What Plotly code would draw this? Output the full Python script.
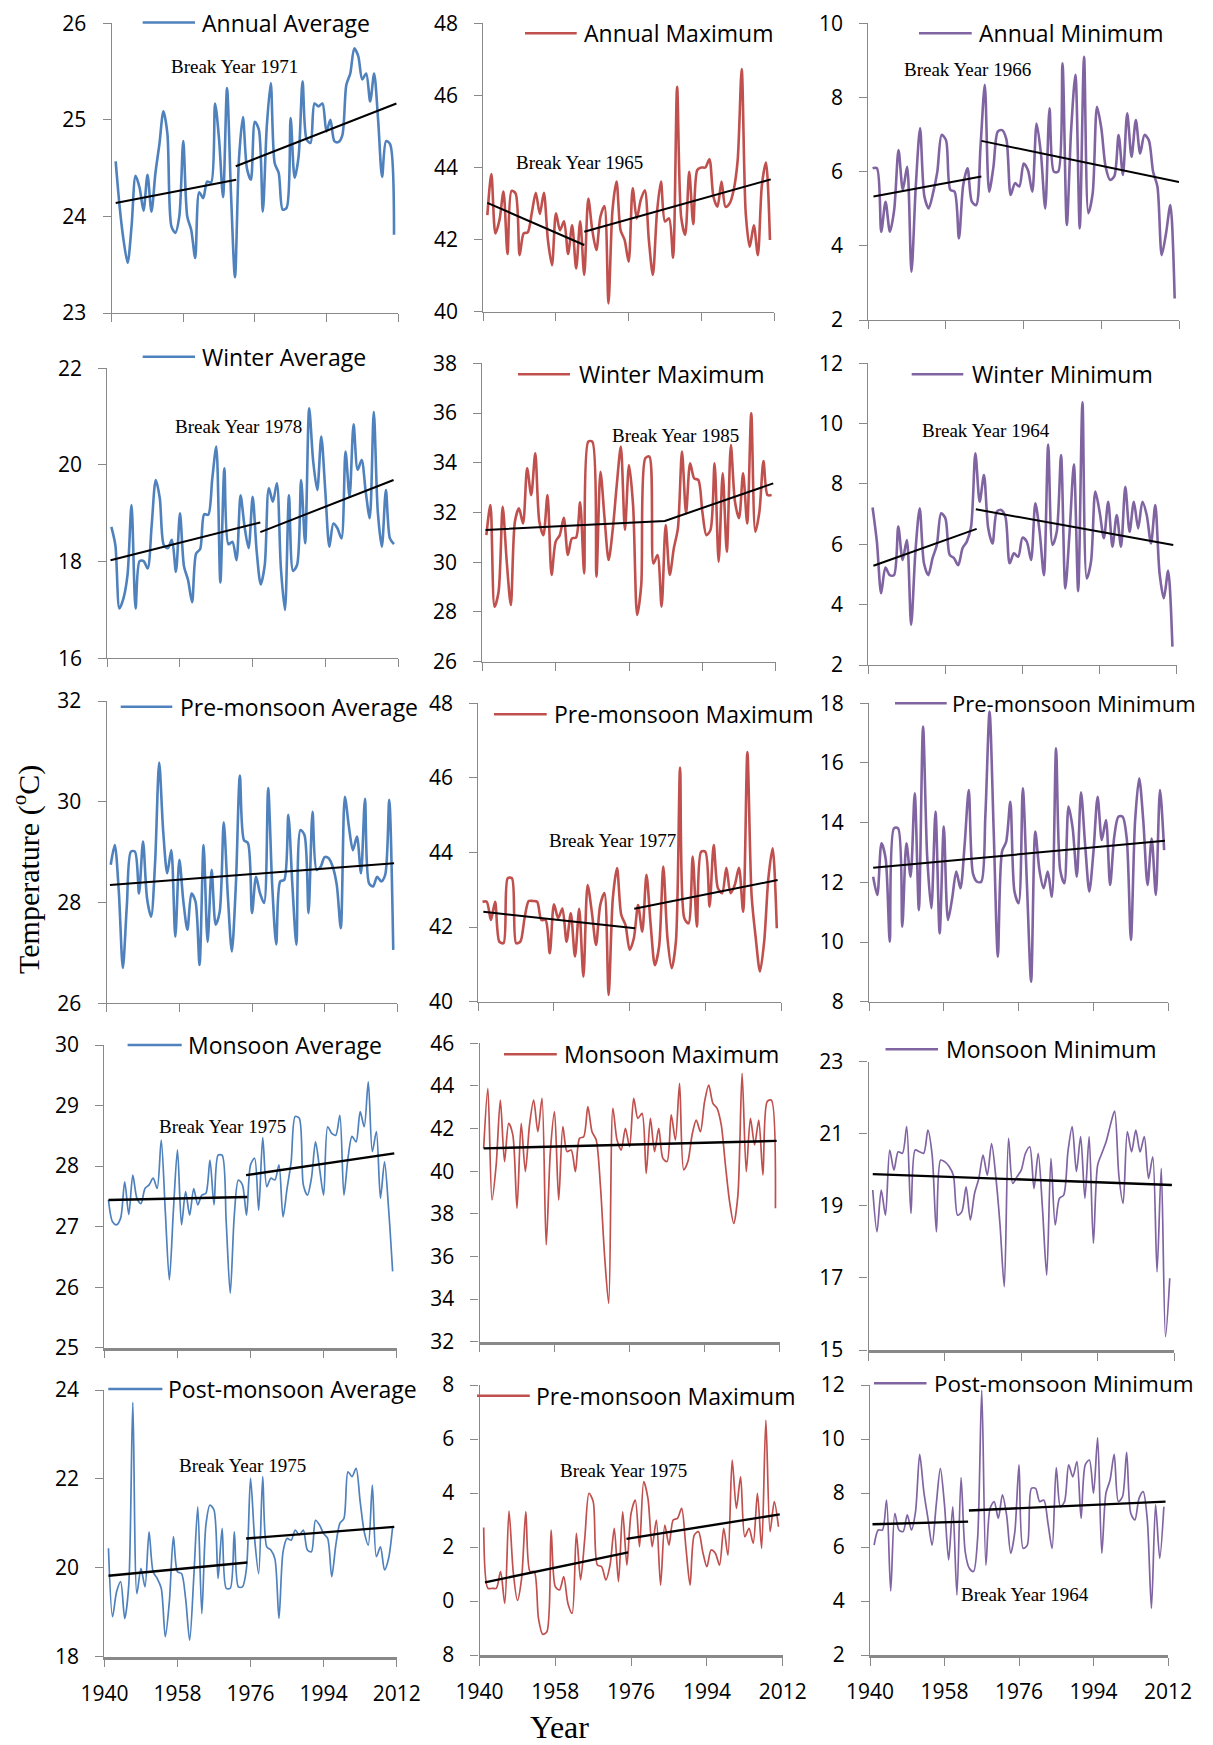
import plotly.graph_objects as go

# ---------------- data ----------------
years = list(range(1941, 2012))
x_ticks = [1940, 1958, 1976, 1994, 2012]

annual_average = [24.57, 24.10, 23.75, 23.52, 23.90, 24.42, 24.30, 24.06, 24.43, 24.05,
                  24.45, 24.75, 25.09, 24.86, 23.90, 23.83, 24.00, 24.78, 24.00, 23.86,
                  23.57, 24.25, 24.19, 24.36, 24.35, 25.17, 24.80, 24.20, 25.33, 24.24,
                  23.37, 24.59, 25.03, 24.50, 24.38, 24.98, 24.90, 24.05, 24.93, 25.38,
                  24.55, 24.45, 24.07, 24.09, 25.02, 24.40, 24.62, 25.40, 24.80, 24.76,
                  25.17, 25.14, 25.17, 24.88, 25.00, 24.78, 24.77, 24.84, 25.36, 25.48,
                  25.74, 25.66, 25.42, 25.48, 25.19, 25.48, 25.00, 24.41, 24.78, 24.75,
                  23.81]
annual_maximum = [42.68, 43.82, 42.17, 42.54, 43.33, 41.60, 43.35, 43.28, 41.57, 42.17,
                  42.20, 42.73, 43.30, 42.71, 43.30, 41.99, 41.29, 42.73, 42.26, 42.51,
                  41.60, 42.40, 41.20, 42.51, 41.02, 43.14, 42.26, 41.71, 42.63, 42.93,
                  40.23, 42.82, 43.61, 42.26, 41.99, 41.39, 43.42, 42.59, 43.10, 43.37,
                  41.99, 41.02, 42.73, 43.61, 42.50, 42.59, 41.50, 46.24, 42.63, 42.13,
                  43.88, 42.43, 43.93, 44.00, 44.00, 44.23, 43.19, 42.91, 43.61, 42.91,
                  43.00, 43.37, 44.20, 46.73, 42.73, 41.80, 42.40, 41.57, 43.51, 44.14,
                  41.99]
annual_minimum = [6.09, 6.09, 4.38, 5.19, 4.38, 4.97, 6.58, 5.51, 6.13, 3.30,
                  5.60, 7.17, 5.33, 5.01, 5.42, 6.00, 6.99, 6.85, 5.51, 5.46,
                  4.20, 5.64, 6.09, 5.19, 5.10, 6.67, 8.34, 5.46, 6.13, 7.08,
                  7.12, 6.87, 5.37, 5.69, 5.60, 6.22, 6.04, 5.46, 7.30, 6.49,
                  5.01, 7.71, 6.00, 6.00, 8.92, 4.56, 7.12, 8.61, 4.47, 9.10,
                  4.88, 5.42, 7.75, 7.17, 6.13, 5.78, 5.87, 6.99, 5.91, 7.57,
                  6.40, 7.39, 6.49, 6.99, 6.85, 6.00, 5.60, 3.75, 4.34, 5.10,
                  2.58]
winter_average = [18.72, 18.34, 17.03, 17.24, 17.72, 19.17, 17.03, 18.01, 18.01, 17.86,
                  18.76, 19.69, 19.31, 18.34, 18.28, 18.45, 17.79, 19.00, 17.90, 17.62,
                  17.16, 18.17, 18.26, 18.98, 18.97, 19.72, 20.38, 17.57, 19.93, 18.36,
                  18.41, 18.03, 19.37, 18.72, 18.28, 19.34, 18.21, 17.53, 17.93, 19.52,
                  19.24, 19.62, 17.86, 17.00, 19.37, 17.81, 17.93, 19.69, 18.38, 21.17,
                  20.07, 19.48, 20.59, 19.45, 18.31, 18.79, 18.69, 18.48, 20.28, 19.34,
                  20.84, 19.90, 20.10, 19.45, 18.90, 21.10, 19.03, 18.31, 19.48, 18.48,
                  18.36]
winter_maximum = [31.09, 32.30, 28.21, 28.82, 32.23, 30.02, 28.28, 31.63, 32.17, 31.56,
                  33.78, 32.70, 34.38, 31.63, 31.09, 32.70, 29.49, 30.83, 31.09, 31.79,
                  30.29, 30.96, 30.99, 32.41, 29.55, 34.85, 34.85, 29.42, 33.64, 31.77,
                  30.09, 31.30, 33.11, 34.65, 31.30, 33.91, 32.30, 27.88, 29.08, 34.18,
                  34.25, 29.95, 30.29, 28.21, 31.50, 29.49, 30.56, 31.36, 34.45, 31.97,
                  33.98, 33.37, 33.31, 32.03, 31.09, 31.30, 33.98, 30.02, 33.58, 30.42,
                  34.71, 32.44, 31.77, 33.58, 31.56, 35.99, 31.23, 32.03, 34.07, 32.70,
                  32.70]
winter_minimum = [7.22, 6.09, 4.38, 5.23, 4.98, 4.98, 6.59, 5.48, 6.14, 3.33,
                  5.76, 7.19, 5.37, 4.98, 5.54, 5.98, 7.03, 6.86, 5.65, 5.54,
                  5.31, 5.87, 6.09, 6.59, 9.02, 7.41, 8.30, 6.53, 6.03, 7.08,
                  7.14, 6.92, 5.37, 5.70, 5.59, 6.22, 6.09, 5.48, 7.36, 6.42,
                  4.98, 9.31, 5.98, 6.42, 8.96, 4.54, 6.42, 8.65, 4.45, 10.71,
                  4.87, 5.43, 7.75, 7.08, 6.20, 7.41, 5.92, 6.97, 5.92, 7.91,
                  6.42, 7.41, 6.53, 7.41, 6.97, 6.03, 7.30, 5.04, 4.21, 5.12,
                  2.61]
premonsoon_average = [28.75, 29.14, 28.22, 26.70, 27.95, 29.01, 29.01, 28.18, 29.21, 28.08,
                      27.72, 28.81, 30.78, 29.41, 28.58, 29.04, 27.32, 28.85, 28.02, 27.46,
                      28.18, 28.02, 26.76, 29.14, 27.22, 28.65, 27.56, 27.82, 29.59, 28.15,
                      27.03, 28.35, 30.52, 29.24, 29.18, 27.79, 28.51, 28.18, 27.99, 30.27,
                      28.35, 27.17, 28.42, 28.45, 29.74, 28.35, 27.16, 29.44, 29.34, 27.79,
                      29.80, 28.65, 28.71, 28.90, 28.88, 28.71, 28.35, 27.49, 30.10, 29.51,
                      29.04, 29.31, 28.58, 30.06, 28.38, 28.32, 28.51, 28.42, 28.55, 30.04,
                      27.06]
premonsoon_maximum = [42.68, 42.68, 42.19, 42.68, 41.61, 41.57, 43.31, 43.31, 41.57, 41.61,
                      42.24, 42.70, 42.70, 42.68, 42.19, 42.19, 41.30, 42.61, 42.24, 42.50,
                      41.61, 42.37, 41.21, 42.49, 40.67, 43.13, 42.41, 41.52, 42.59, 42.91,
                      40.18, 42.77, 43.58, 42.33, 42.06, 41.39, 41.70, 42.59, 41.88, 43.40,
                      42.06, 40.98, 41.48, 43.62, 41.70, 40.90, 41.61, 46.28, 42.24, 42.10,
                      43.89, 42.01, 44.02, 44.02, 42.55, 44.20, 43.04, 42.91, 43.59, 42.91,
                      43.13, 43.59, 42.41, 46.69, 42.86, 41.70, 40.81, 41.61, 43.31, 44.11,
                      41.97]
premonsoon_minimum = [12.19, 11.58, 13.31, 12.80, 10.01, 13.81, 13.81, 10.51, 13.31, 12.19,
                      14.98, 11.07, 17.22, 12.86, 11.13, 14.37, 10.29, 13.87, 10.74, 11.46,
                      12.36, 11.80, 13.25, 15.09, 12.30, 12.02, 12.02, 14.26, 17.72, 13.70,
                      9.51, 13.03, 13.36, 14.70, 11.69, 11.30, 15.15, 11.91, 8.67, 13.70,
                      12.41, 11.80, 12.36, 11.52, 16.49, 12.41, 11.97, 14.54, 13.81, 12.19,
                      15.02, 13.25, 11.69, 13.03, 14.87, 13.42, 14.09, 11.91, 13.53, 14.20,
                      14.20, 13.47, 10.07, 14.03, 15.49, 14.03, 11.91, 13.47, 11.58, 15.09,
                      13.08]
monsoon_average = [27.44, 27.08, 27.03, 27.14, 27.74, 27.20, 27.85, 27.47, 27.38, 27.63,
                   27.69, 27.80, 27.63, 28.43, 27.25, 26.12, 27.27, 28.27, 27.03, 27.58,
                   27.19, 27.63, 27.36, 27.52, 27.55, 28.10, 27.36, 28.18, 28.18, 27.08,
                   25.90, 27.19, 27.77, 27.69, 27.19, 28.02, 28.13, 27.27, 28.47, 27.66,
                   27.80, 27.77, 28.02, 27.16, 27.63, 28.07, 28.82, 28.79, 27.69, 27.52,
                   27.80, 28.40, 27.96, 27.52, 28.65, 28.54, 28.51, 28.84, 27.52, 28.13,
                   28.49, 28.40, 28.90, 28.65, 29.39, 28.24, 28.57, 27.47, 28.07, 27.30,
                   26.26]
monsoon_maximum = [41.07, 43.89, 38.65, 40.29, 43.34, 40.45, 42.25, 41.70, 38.26, 42.25,
                   39.98, 42.17, 43.34, 41.85, 43.42, 36.54, 40.92, 42.79, 38.65, 42.09,
                   40.92, 40.99, 39.98, 41.54, 41.62, 43.03, 41.85, 41.46, 39.35, 36.07,
                   33.80, 42.95, 41.46, 40.99, 42.01, 41.15, 43.42, 42.48, 42.71, 39.90,
                   42.48, 40.92, 42.01, 40.60, 40.45, 42.64, 41.46, 44.12, 40.06, 40.45,
                   41.70, 42.40, 41.85, 43.26, 44.04, 43.18, 42.95, 42.17, 40.29, 38.57,
                   37.55, 38.88, 44.59, 39.98, 42.48, 41.23, 42.40, 39.82, 43.26, 43.34,
                   38.26]
monsoon_minimum = [19.44, 18.28, 19.44, 18.74, 20.55, 19.99, 20.50, 20.46, 21.20, 18.79,
                   20.55, 20.50, 20.46, 21.10, 20.41, 18.28, 20.27, 20.22, 20.09, 19.85,
                   18.74, 18.84, 19.53, 18.61, 19.35, 19.76, 20.41, 19.85, 20.73, 19.81,
                   18.47, 16.76, 20.87, 19.62, 19.81, 19.99, 20.46, 20.64, 19.48, 20.46,
                   18.93, 17.08, 20.32, 18.47, 19.21, 19.30, 20.50, 21.20, 19.95, 20.92,
                   19.21, 20.92, 17.96, 20.13, 20.46, 20.78, 21.24, 21.63, 19.85, 19.07,
                   21.06, 20.50, 21.10, 20.50, 20.92, 19.76, 20.36, 17.17, 20.04, 15.37,
                   16.99]
postmonsoon_average = [20.44, 18.90, 19.46, 19.69, 18.86, 19.61, 23.72, 19.42, 19.99, 19.57,
                       20.81, 19.91, 19.76, 19.54, 18.45, 19.24, 20.70, 19.91, 19.87, 19.31,
                       18.37, 19.76, 21.37, 18.97, 20.96, 21.41, 21.30, 19.76, 20.89, 19.54,
                       19.54, 20.81, 19.57, 19.57, 19.99, 22.01, 20.66, 19.87, 22.05, 20.47,
                       20.40, 20.20, 18.86, 20.36, 20.66, 20.62, 20.85, 20.74, 20.85, 20.40,
                       20.36, 21.07, 20.96, 20.77, 20.66, 19.80, 20.51, 21.00, 21.11, 22.16,
                       22.05, 22.24, 21.49, 20.81, 20.51, 21.86, 20.25, 20.47, 19.95, 20.21,
                       20.92]
postmonsoon_maximum = [2.72, 0.47, 0.47, 0.47, 1.09, -0.09, 3.33, 1.09, 0.02, 0.84,
                       3.31, 1.09, 1.09, -0.64, -1.23, -1.14, 2.63, 0.53, 0.41, 0.90,
                       -0.09, -0.46, 2.51, 0.78, 2.32, 3.99, 3.68, 1.33, 1.27, 0.78,
                       1.33, 2.69, 0.72, 3.31, 1.33, 3.25, 3.74, 2.01, 4.42, 3.80,
                       2.01, 3.00, 0.59, 2.81, 2.07, 3.00, 3.06, 3.43, 2.01, 0.59,
                       2.44, 2.57, 1.83, 1.27, 1.89, 1.77, 1.33, 2.69, 1.70, 5.22,
                       3.43, 4.60, 2.38, 2.69, 2.14, 3.99, 1.95, 6.70, 2.57, 3.68,
                       2.75]
postmonsoon_minimum = [6.07, 6.63, 6.63, 7.74, 4.37, 7.25, 6.63, 6.57, 7.19, 6.63,
                       7.31, 9.43, 8.05, 7.06, 6.07, 7.56, 8.91, 7.56, 5.52, 7.49,
                       4.22, 8.57, 5.83, 5.21, 5.09, 6.32, 11.81, 5.33, 7.43, 7.68,
                       7.06, 7.93, 7.19, 5.77, 6.57, 9.04, 5.95, 6.07, 8.17, 8.17,
                       7.68, 7.74, 6.88, 5.95, 8.94, 7.49, 7.68, 9.04, 8.60, 9.16,
                       7.06, 9.04, 9.22, 7.99, 10.05, 5.77, 7.99, 8.48, 9.43, 7.68,
                       7.86, 9.51, 7.25, 7.00, 7.80, 8.05, 7.00, 3.73, 7.56, 5.58,
                       7.49]

# trend segments (year, value); None separates the two sides of a break
annual_average_trend_x = [1941, 1971.3, None, 1971.2, 2011.6]
annual_average_trend_y = [24.14, 24.38, None, 24.52, 25.17]
annual_maximum_trend_x = [1941, 1965, None, 1965, 2011.2]
annual_maximum_trend_y = [43.02, 41.85, None, 42.22, 43.67]
annual_minimum_trend_x = [1941.2, 1966.2, None, 1966.2, 2012]
annual_minimum_trend_y = [5.33, 5.87, None, 6.83, 5.72]
winter_average_trend_x = [1940.8, 1977.9, None, 1977.9, 2010.9]
winter_average_trend_y = [18.03, 18.81, None, 18.61, 19.69]
winter_maximum_trend_x = [1940.8, 1984.8, 2011.4]
winter_maximum_trend_y = [31.30, 31.66, 33.17]
winter_minimum_trend_x = [1941.2, 1965.3, None, 1965.1, 2011.2]
winter_minimum_trend_y = [5.29, 6.51, None, 7.16, 5.98]
premonsoon_average_trend_x = [1940.8, 2011.2]
premonsoon_average_trend_y = [28.35, 28.78]
premonsoon_maximum_trend_x = [1941.2, 1977.3, None, 1977.1, 2011.2]
premonsoon_maximum_trend_y = [42.41, 41.97, None, 42.49, 43.26]
premonsoon_minimum_trend_x = [1941, 2011.2]
premonsoon_minimum_trend_y = [12.49, 13.39]
monsoon_average_trend_x = [1941, 1975.2, None, 1974.9, 2011.4]
monsoon_average_trend_y = [27.44, 27.49, None, 27.85, 28.21]
monsoon_maximum_trend_x = [1941, 2011.3]
monsoon_maximum_trend_y = [41.07, 41.42]
monsoon_minimum_trend_x = [1941, 2011.5]
monsoon_minimum_trend_y = [19.88, 19.58]
postmonsoon_average_trend_x = [1941, 1975.2, None, 1974.9, 2011.4]
postmonsoon_average_trend_y = [19.82, 20.12, None, 20.66, 20.92]
postmonsoon_maximum_trend_x = [1941.3, 1975.3, None, 1974.9, 2011.3]
postmonsoon_maximum_trend_y = [0.69, 1.80, None, 2.30, 3.21]
postmonsoon_minimum_trend_x = [1940.6, 1963.7, None, 1963.9, 2011.4]
postmonsoon_minimum_trend_y = [6.84, 6.94, None, 7.35, 7.68]

series_names = ["Annual Average", "Annual Maximum", "Annual Minimum",
                "Winter Average", "Winter Maximum", "Winter Minimum",
                "Pre-monsoon Average", "Pre-monsoon Maximum", "Pre-monsoon Minimum",
                "Monsoon Average", "Monsoon Maximum", "Monsoon Minimum",
                "Post-monsoon Average", "Pre-monsoon Maximum", "Post-monsoon Minimum"]
break_labels = ["Break Year 1971", "Break Year 1965", "Break Year 1966",
                "Break Year 1978", "Break Year 1985", "Break Year 1964",
                None, "Break Year 1977", None,
                "Break Year 1975", None, None,
                "Break Year 1975", "Break Year 1975", "Break Year 1964"]
y_tick_values = [[23, 24, 25, 26], [40, 42, 44, 46, 48], [2, 4, 6, 8, 10],
                 [16, 18, 20, 22], [26, 28, 30, 32, 34, 36, 38], [2, 4, 6, 8, 10, 12],
                 [26, 28, 30, 32], [40, 42, 44, 46, 48], [8, 10, 12, 14, 16, 18],
                 [25, 26, 27, 28, 29, 30], [32, 34, 36, 38, 40, 42, 44, 46], [15, 17, 19, 21, 23],
                 [18, 20, 22, 24], [-2, 0, 2, 4, 6, 8], [2, 4, 6, 8, 10, 12]]
y_tick_text_postmonsoon_max = ["8", "0", "2", "4", "6", "8"]

values = [annual_average, annual_maximum, annual_minimum,
          winter_average, winter_maximum, winter_minimum,
          premonsoon_average, premonsoon_maximum, premonsoon_minimum,
          monsoon_average, monsoon_maximum, monsoon_minimum,
          postmonsoon_average, postmonsoon_maximum, postmonsoon_minimum]
trends = [(annual_average_trend_x, annual_average_trend_y),
          (annual_maximum_trend_x, annual_maximum_trend_y),
          (annual_minimum_trend_x, annual_minimum_trend_y),
          (winter_average_trend_x, winter_average_trend_y),
          (winter_maximum_trend_x, winter_maximum_trend_y),
          (winter_minimum_trend_x, winter_minimum_trend_y),
          (premonsoon_average_trend_x, premonsoon_average_trend_y),
          (premonsoon_maximum_trend_x, premonsoon_maximum_trend_y),
          (premonsoon_minimum_trend_x, premonsoon_minimum_trend_y),
          (monsoon_average_trend_x, monsoon_average_trend_y),
          (monsoon_maximum_trend_x, monsoon_maximum_trend_y),
          (monsoon_minimum_trend_x, monsoon_minimum_trend_y),
          (postmonsoon_average_trend_x, postmonsoon_average_trend_y),
          (postmonsoon_maximum_trend_x, postmonsoon_maximum_trend_y),
          (postmonsoon_minimum_trend_x, postmonsoon_minimum_trend_y)]

# ---------------- layout (pixels of the page) ----------------
W, H = 1213, 1745
OFF = 8  # the page body margin shifts the figure by 8 px
BLUE, RED, PURPLE = "#4F81BD", "#C0504D", "#8064A2"
colors = [BLUE, RED, PURPLE] * 5
AXIS_COLOR = "#898989"

# plot boxes: x0, x1, ytop, ybottom
boxes = [(111.7, 398, 23.3, 313), (483.3, 774, 23.3, 311.7), (868.3, 1179, 23.3, 320),
         (107.3, 398, 368.3, 658.3), (482.3, 775.7, 363.3, 661.7), (868.3, 1176.7, 363.3, 665),
         (106.7, 397.3, 701, 1003.3), (478.3, 781, 703.3, 1001.7), (869, 1168.3, 703.3, 1001.7),
         (104.4, 396.7, 1045, 1347.7), (479.5, 779.6, 1043.3, 1341.7), (868.5, 1174, 1061.7, 1350),
         (104.4, 396.7, 1390, 1656.7), (479.5, 782.7, 1385, 1655), (870, 1168, 1385, 1655)]
# legend: line x0, line x1, y, text x, font size
legend_pos = [(142.7, 195, 22.5, 200, 23), (525, 576.7, 33.3, 582.3, 23), (919, 971.7, 33.3, 977.3, 23),
              (142.7, 195, 356.7, 200, 23), (518, 570, 374.3, 576.7, 23), (911.7, 963.3, 374.3, 970, 23),
              (120.7, 172.3, 706.7, 178.3, 23), (494, 546.7, 714.3, 551.7, 23), (895, 946.7, 703.3, 950, 22),
              (127.6, 181.7, 1045, 185.6, 23), (504, 556.8, 1054.3, 562.3, 23), (885.5, 938, 1049.3, 943.5, 23),
              (108.3, 162.4, 1389, 166.3, 23), (477, 529.8, 1395.7, 533.6, 23), (874, 926.5, 1383.3, 932, 22.5)]
break_pos = [(234, 66.7), (579, 162.3), (967, 70),
             (238.8, 426.7), (675, 435), (985.8, 430),
             None, (612, 840), None,
             (222.4, 1126.7), None, None,
             (242.5, 1465), (623.7, 1470.7), (1025, 1594)]


def fx(x):
    return (x - OFF) / W


def fy(y):
    return 1 - (y - OFF) / H


fig = go.Figure()
layout = dict(width=W, height=H, autosize=False,
              margin=dict(l=0, r=0, t=0, b=0, pad=0, autoexpand=False),
              paper_bgcolor="white", plot_bgcolor="white", showlegend=False,
              annotations=[], shapes=[])

for i in range(15):
    row = i // 3
    s = "" if i == 0 else str(i + 1)
    x0, x1, yt, yb = boxes[i]
    thin = row >= 3
    fig.add_trace(go.Scatter(
        x=years, y=values[i], mode="lines", name=series_names[i],
        line=dict(color=colors[i], width=1.7 if thin else 2.6, shape="spline", smoothing=0.8),
        xaxis="x" + s, yaxis="y" + s, showlegend=False, hoverinfo="x+y"))
    tx, ty = trends[i]
    fig.add_trace(go.Scatter(
        x=tx, y=ty, mode="lines", line=dict(color="black", width=2.4 if thin else 2),
        xaxis="x" + s, yaxis="y" + s, showlegend=False, hoverinfo="skip"))

    tv = y_tick_values[i]
    layout["xaxis" + s] = dict(
        domain=[fx(x0), fx(x1)], range=[1940, 2012], anchor="y" + s, automargin=False,
        tickvals=x_ticks, ticktext=[str(t) for t in x_ticks],
        showticklabels=(row == 4), ticks="outside", ticklen=8, tickwidth=1.3,
        tickcolor=AXIS_COLOR, showline=True, linecolor=AXIS_COLOR,
        linewidth=2.5 if thin else 1.3, showgrid=False, zeroline=False,
        tickfont=dict(family="Open Sans", size=21, color="black"),
        ticklabelstandoff=8)
    layout["yaxis" + s] = dict(
        domain=[fy(yb), fy(yt)], range=[tv[0], tv[-1]], anchor="x" + s, automargin=False,
        tickvals=tv,
        ticktext=(y_tick_text_postmonsoon_max if i == 13 else [str(t) for t in tv]),
        ticks="outside", ticklen=8, tickwidth=1.3, tickcolor=AXIS_COLOR,
        showline=True, linecolor=AXIS_COLOR, linewidth=1.3, showgrid=False,
        zeroline=False, tickfont=dict(family="Open Sans", size=21, color="black"),
        ticklabelstandoff=12)

    lx0, lx1, ly, ltx, lfs = legend_pos[i]
    layout["shapes"].append(dict(type="line", xref="paper", yref="paper",
                                 x0=fx(lx0), x1=fx(lx1), y0=fy(ly), y1=fy(ly),
                                 line=dict(color=colors[i], width=2.6)))
    layout["annotations"].append(dict(text=series_names[i], xref="paper", yref="paper",
                                      x=fx(ltx), y=fy(ly), xanchor="left", yanchor="middle",
                                      showarrow=False,
                                      font=dict(family="Open Sans", size=lfs, color="black")))
    if break_labels[i]:
        bx, by = break_pos[i]
        layout["annotations"].append(dict(text=break_labels[i], xref="paper", yref="paper",
                                          x=fx(bx), y=fy(by), xanchor="center", yanchor="middle",
                                          showarrow=False,
                                          font=dict(family="Liberation Serif", size=19, color="black")))

layout["annotations"].append(dict(text="Temperature (<sup>o</sup>C)", xref="paper", yref="paper",
                                  x=fx(26), y=fy(870), xanchor="center", yanchor="middle",
                                  textangle=-90, showarrow=False,
                                  font=dict(family="Liberation Serif", size=30, color="black")))
layout["annotations"].append(dict(text="Year", xref="paper", yref="paper",
                                  x=fx(559), y=fy(1727), xanchor="center", yanchor="middle",
                                  showarrow=False,
                                  font=dict(family="Liberation Serif", size=32, color="black")))

fig.update_layout(**layout)
fig.write_html("out.html", config={"responsive": False})
